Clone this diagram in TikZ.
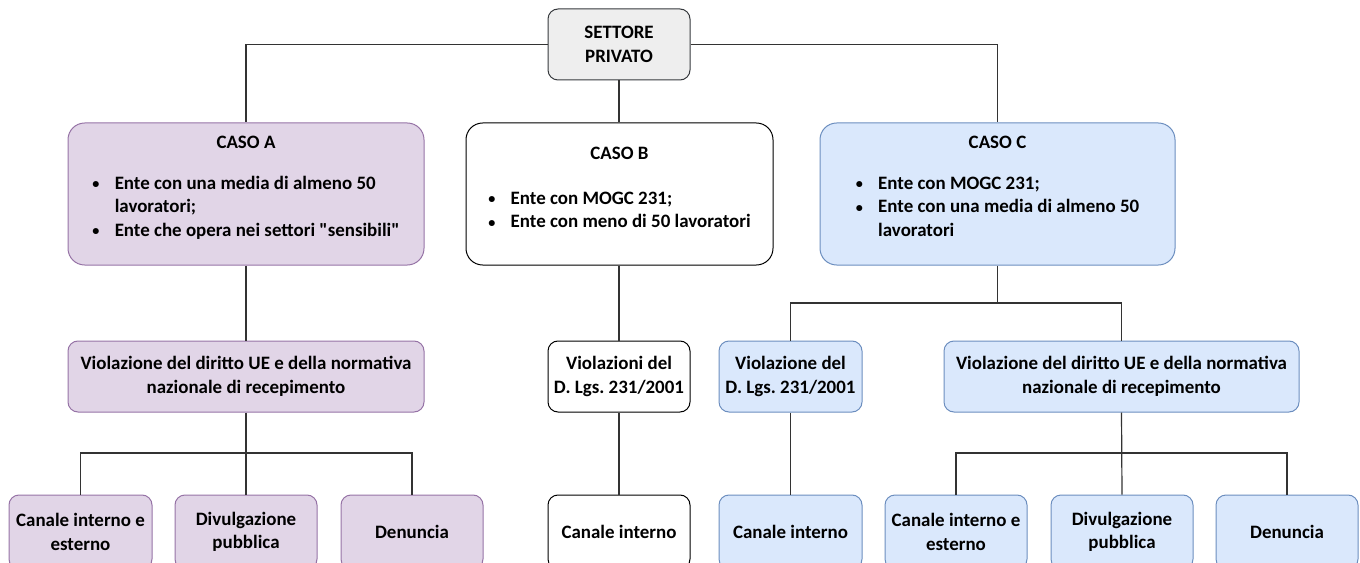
\documentclass[tikz,border=0pt]{standalone}
\usepackage{fontspec}
\setmainfont{Carlito}
\frenchspacing
\definecolor{pfill}{HTML}{E1D5E7}
\definecolor{pdraw}{HTML}{9673A6}
\definecolor{bfill}{HTML}{DAE8FC}
\definecolor{bdraw}{HTML}{6C8EBF}
\definecolor{gfill}{HTML}{EEEEEE}
\definecolor{gdraw}{HTML}{36393D}
\definecolor{wirec}{HTML}{333333}
\newcommand{\bul}{\raisebox{0.5pt}{\scalebox{0.75}{\textbullet}}}
\newcommand{\casotext}[5]{\parbox[c][106pt][t]{#1}{\centering\rule{0pt}{#2}#3\par\vspace{#4}\begin{tabular}[t]{@{}l@{\hspace{11.5pt}}l@{}}#5\end{tabular}\par}}
\begin{document}
\begin{tikzpicture}[x=0.75pt,y=-0.75pt,
  every node/.style={font=\fontsize{14.2pt}{17.7pt}\selectfont\bfseries},
  box/.style={rectangle, rounded corners=7.5pt, line width=0.75pt, align=center, inner sep=0pt},
  sz/.style 2 args={minimum width=#1*0.75pt, minimum height=#2*0.75pt},
  bigr/.style={rounded corners=12.5pt},
  pbox/.style={box, fill=pfill, draw=pdraw},
  bbox/.style={box, fill=bfill, draw=bdraw},
  wbox/.style={box, fill=white, draw=black},
  gbox/.style={box, fill=gfill, draw=gdraw},
  wire/.style={draw=wirec, line width=0.9pt}]
\useasboundingbox (0,0) rectangle (1360,563);
\clip (0,0) rectangle (1360,563);
% top
\node[gbox, sz={142}{71}] (sp) at (619,44.5) {SETTORE\\PRIVATO};
% cases
\node[pbox, bigr, sz={356}{142}] (caA) at (246,194) {\casotext{250pt}{18.75pt}{CASO A}{13pt}{\bul & Ente con una media di almeno 50\\ & lavoratori;\\ \bul & Ente che opera nei settori \textquotedbl sensibili\textquotedbl}};
\node[wbox, bigr, sz={307}{142}] (caB) at (619.5,194) {\casotext{220pt}{27pt}{CASO B}{16pt}{\bul & Ente con MOGC 231;\\ \bul & Ente con meno di 50 lavoratori}};
\node[bbox, bigr, sz={355}{142}] (caC) at (997.5,194) {\casotext{250pt}{18.75pt}{CASO C}{13pt}{\bul & Ente con MOGC 231;\\ \bul & Ente con una media di almeno 50\\ & lavoratori}};
% violations
\node[pbox, sz={356}{71}] (vA) at (246,376.5) {Violazione del diritto UE e della normativa\\nazionale di recepimento};
\node[wbox, sz={142}{71}] (vB) at (619,376.5) {Violazioni del\\D. Lgs. 231/2001};
\node[bbox, sz={143}{71}] (vC1) at (790.5,376.5) {Violazione del\\D. Lgs. 231/2001};
\node[bbox, sz={355}{71}] (vC2) at (1121.5,376.5) {Violazione del diritto UE e della normativa\\nazionale di recepimento};
% channels
\node[pbox, sz={143}{74}] (a1) at (80.5,532) {Canale interno e\\esterno};
\node[pbox, sz={142}{74}] (a2) at (246,532) {Divulgazione\\pubblica};
\node[pbox, sz={142}{74}] (a3) at (412,532) {Denuncia};
\node[wbox, sz={142}{74}] (b1) at (619,532) {Canale interno};
\node[bbox, sz={143}{74}] (c1) at (790.5,532) {Canale interno};
\node[bbox, sz={142}{74}] (c2) at (956,532) {Canale interno e\\esterno};
\node[bbox, sz={142}{74}] (c3) at (1122,532) {Divulgazione\\pubblica};
\node[bbox, sz={142}{74}] (c4) at (1287,532) {Denuncia};
% junctions
\coordinate (jA) at (246,453);
\coordinate (jC) at (997.5,303);
\coordinate (jC2) at (1121.5,453);
% connectors
\draw[wire] (sp.west) -| (caA.north);
\draw[wire] (sp.east) -| (caC.north);
\draw[wire] (sp.south) -- (sp.south |- caB.north);
\draw[wire] (caA.south) -- (vA.north);
\draw[wire] (vA.south) -- (a2.north);
\draw[wire] (a1.north) |- (jA) -| (a3.north);
\draw[wire] (caB.south -| vB.north) -- (vB.north);
\draw[wire] (vB.south) -- (b1.north);
\draw[wire] (caC.south) -- (jC);
\draw[wire] (vC1.north) |- (jC) -| (vC2.north);
\draw[wire] (vC1.south) -- (c1.north);
\draw[wire] (vC2.south) -- (c3.north);
\draw[wire] (c2.north) |- (jC2) -| (c4.north);
\end{tikzpicture}
\end{document}
